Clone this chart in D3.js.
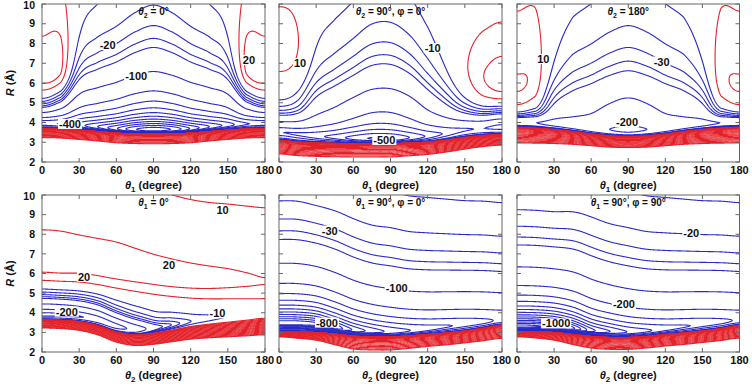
<!DOCTYPE html>
<html>
<head>
<meta charset="utf-8">
<script src="https://cdn.jsdelivr.net/npm/d3@7"></script>
<style>
  body { margin: 0; background: #fff; }
  text { font-family: "Liberation Sans", Arial, sans-serif; font-weight: bold; }
</style>
</head>
<body>
<svg id="chart" width="752" height="386"></svg>
<script>
const angles = [0, 15, 30, 45, 60, 75, 90, 105, 120, 135, 150, 165, 180];
const xTicks = [0, 30, 60, 90, 120, 150, 180];
const yTicks = [2, 3, 4, 5, 6, 7, 8, 9, 10];

// contour levels
const blueLevels = [-1500, -1400, -1300, -1200, -1100, -1000, -900, -800, -700, -600, -500, -400, -300, -200, -100, -50, -40, -30, -20, -10];
const redLevels = [10, 20, 35, 60, 100, 170, 300, 500, 850, 1500, 2500, 4300, 7500, 13000, 22000, 38000, 65000, 95000];

// panel 1 : theta2 = 0
const p1RedTop   = [3.70, 3.68, 3.62, 3.55, 3.47, 3.43, 3.42, 3.43, 3.47, 3.55, 3.62, 3.68, 3.70];
const p1RedWidth = [0.47, 0.47, 0.48, 0.49, 0.50, 0.50, 0.50, 0.50, 0.50, 0.49, 0.48, 0.47, 0.47];
const p1WellR    = [3.95, 3.92, 3.85, 3.75, 3.64, 3.57, 3.55, 3.57, 3.64, 3.75, 3.85, 3.92, 3.95];
const p1Depth    = [380, 420, 540, 700, 930, 1200, 1300, 1200, 930, 700, 540, 420, 380];
const p1Power    = [12, 9, 6.5, 6, 5.8, 5.6, 5.5, 5.6, 5.8, 6, 6.5, 9, 12];
const p1Far      = [0, 0, 6, 8, 10, 13, 15, 13, 10, 8, 6, 0, 0];
const p1Lobe     = [27, 26, 5, 0, 0, 0, 0, 0, 0, 0, 5, 26, 27];
const p1LobeR    = [6.5, 6.7, 7.0, 7.0, 7.0, 7.0, 7.0, 7.0, 7.0, 7.0, 7.0, 6.7, 6.5];

// panel 2 : theta2 = 90, phi = 0
const p2RedTop   = [3.10, 3.02, 2.98, 2.95, 2.93, 2.93, 2.93, 2.97, 3.02, 3.12, 3.25, 3.35, 3.40];
const p2RedWidth = [0.70, 0.70, 0.70, 0.69, 0.68, 0.68, 0.68, 0.66, 0.64, 0.62, 0.60, 0.57, 0.55];
const p2WellR    = [3.50, 3.40, 3.30, 3.24, 3.18, 3.15, 3.15, 3.20, 3.30, 3.45, 3.62, 3.70, 3.75];
const p2Depth    = [300, 320, 360, 430, 540, 620, 610, 500, 370, 270, 210, 200, 240];
const p2Power    = [9, 8, 6.5, 5.8, 5.2, 5, 5, 5.2, 5.8, 6.5, 8, 9, 9.5];
const p2Far      = [0, 1, 5, 7, 9, 12, 12.5, 10, 6, 3, 1, 0, 0];
const p2Lobe     = [15, 13, 2, 0, 0, 0, 0, 0, 0, 4, 13, 22, 28];
const p2LobeR    = [7.8, 7.8, 7.8, 7.5, 7.5, 7.0, 7.0, 7.0, 7.0, 6.8, 6.4, 6.1, 6.0];

// panel 3 : theta2 = 180
const p3RedTop   = [3.76, 3.72, 3.65, 3.55, 3.42, 3.33, 3.30, 3.33, 3.42, 3.55, 3.65, 3.72, 3.76];
const p3RedWidth = [0.80, 0.77, 0.72, 0.66, 0.60, 0.58, 0.57, 0.58, 0.60, 0.66, 0.72, 0.77, 0.80];
const p3WellR    = [4.00, 3.97, 3.90, 3.80, 3.70, 3.63, 3.60, 3.63, 3.70, 3.80, 3.90, 3.97, 4.00];
const p3Depth    = [110, 105, 100, 100, 110, 140, 170, 140, 110, 100, 100, 105, 110];
const p3Power    = [16, 12, 8, 7.7, 7.7, 7.7, 7.7, 7.7, 7.7, 7.7, 8, 12, 16];
const p3Far      = [0, 0, 5, 8, 10, 12.5, 14, 12.5, 10, 8, 5, 0, 0];
const p3Lobe     = [21, 18, 5, 0, 0, 0, 0, 0, 0, 0, 5, 18, 21];
const p3LobeR    = [5.8, 6.3, 6.8, 7.0, 7.0, 7.0, 7.0, 7.0, 7.0, 7.0, 6.8, 6.3, 5.8];

// panel 4 : theta1 = 0
const p4RedTop   = [3.64, 3.62, 3.55, 3.35, 3.02, 2.88, 2.96, 3.12, 3.30, 3.42, 3.52, 3.62, 3.72];
const p4RedWidth = [0.42, 0.43, 0.45, 0.48, 0.52, 0.55, 0.57, 0.60, 0.65, 0.70, 0.75, 0.80, 0.85];
const p4WellR    = [3.90, 3.88, 3.80, 3.62, 3.30, 3.15, 3.22, 3.38, 3.55, 3.68, 3.78, 3.88, 3.98];
const p4Depth    = [340, 330, 310, 285, 250, 160, 70, 40, 21, 14, 10, 7, 5];
const p4Power    = [11, 11, 10.5, 10, 9.5, 9, 9, 9, 9, 9, 9, 9, 9];
const p4Far      = [0, 0, 0, 0, 0, 0, 0, 0, 0, 0, 0, 0, 0];
const p4Lobe     = [24.5, 24.5, 24, 23.8, 23.5, 23, 22.5, 22.3, 22, 21.7, 21.3, 20.8, 20.4];
const p4LobeR    = [6.4, 6.35, 6.3, 6.2, 6.1, 5.95, 5.8, 5.65, 5.55, 5.5, 5.5, 5.5, 5.5];

// panel 5 : theta1 = 90, phi = 0
const p5RedTop   = [3.03, 3.02, 3.00, 2.92, 2.82, 2.78, 2.78, 2.83, 2.90, 2.98, 3.08, 3.22, 3.37];
const p5RedWidth = [0.26, 0.32, 0.40, 0.55, 0.67, 0.68, 0.68, 0.65, 0.62, 0.62, 0.62, 0.65, 0.68];
const p5WellR    = [3.45, 3.45, 3.40, 3.25, 3.10, 3.03, 3.00, 3.05, 3.15, 3.28, 3.40, 3.50, 3.60];
const p5Depth    = [1200, 1190, 1150, 1000, 820, 700, 620, 540, 470, 420, 380, 340, 300];
const p5Power    = [4, 4, 4, 3.8, 3.6, 3.5, 3.4, 3.4, 3.4, 3.45, 3.5, 3.5, 3.5];
const p5Far      = [0, 0, 0, 0, 0, 0, 0, 0, 0, 0, 0, 0, 0];
const p5Lobe     = [0, 0, 0, 0, 0, 0, 0, 0, 0, 0, 0, 0, 0];
const p5LobeR    = [7, 7, 7, 7, 7, 7, 7, 7, 7, 7, 7, 7, 7];

// panel 6 : theta1 = 90, phi = 90
const p6RedTop   = [3.05, 3.04, 3.00, 2.90, 2.80, 2.75, 2.75, 2.80, 2.90, 2.98, 3.08, 3.20, 3.35];
const p6RedWidth = [0.28, 0.33, 0.40, 0.52, 0.60, 0.62, 0.62, 0.60, 0.60, 0.60, 0.60, 0.62, 0.65];
const p6WellR    = [3.30, 3.30, 3.28, 3.20, 3.08, 3.02, 3.00, 3.05, 3.15, 3.28, 3.40, 3.50, 3.60];
const p6Depth    = [1450, 1430, 1350, 1150, 870, 730, 620, 540, 470, 420, 380, 340, 300];
const p6Power    = [4.2, 4.2, 4.15, 3.9, 3.6, 3.5, 3.4, 3.4, 3.4, 3.45, 3.5, 3.5, 3.5];
const p6Far      = [0, 0, 0, 0, 0, 0, 0, 0, 0, 0, 0, 0, 0];
const p6Lobe     = [0, 0, 0, 0, 0, 0, 0, 0, 0, 0, 0, 0, 0];
const p6LobeR    = [7, 7, 7, 7, 7, 7, 7, 7, 7, 7, 7, 7, 7];

// contour labels [text, angle, R]
const p1Labels = [["-20", 53, 7.92], ["-100", 76, 6.36], ["-400", 22.6, 3.92], ["20", 167, 7.16]];
const p2Labels = [["10", 17, 7.0], ["-10", 124, 7.76], ["-500", 85, 3.11]];
const p3Labels = [["10", 21.3, 7.2], ["-30", 117, 7.08], ["-200", 89, 4.0]];
const p4Labels = [["10", 145.7, 9.23], ["20", 102.5, 6.43], ["20", 34, 5.83], ["-200", 20, 4.05], ["-10", 141.6, 3.96]];
const p5Labels = [["-30", 41, 8.18], ["-100", 95, 5.24], ["-800", 38.7, 3.49]];
const p6Labels = [["-20", 141, 8.05], ["-200", 86.5, 4.44], ["-1000", 31.7, 3.45]];

const cols = [[42, 265], [279, 502], [517, 739.5]];
const rows = [[4, 162], [195, 352]];

const VMAX = 1e5, RES = 2, M = 3;
const blue = "#2a2ac8", red = "#e4222a";
const STEP = angles[1] - angles[0];

function spline(vals) {
  const n = vals.length;
  const at = i => vals[i < 0 ? -i : i > n - 1 ? 2 * (n - 1) - i : i];
  return t => {
    t = Math.max(0, Math.min(180, t));
    const s = t / STEP;
    const i = Math.min(Math.floor(s), n - 2), f = s - i;
    const p0 = at(i - 1), p1 = at(i), p2 = at(i + 1), p3 = at(i + 2);
    return 0.5 * (2 * p1 + (p2 - p0) * f + (2 * p0 - 5 * p1 + 4 * p2 - p3) * f * f + (3 * p1 - p0 - 3 * p2 + p3) * f * f * f);
  };
}

function makePanel(col, row, arr, opts, labels, title, xName) {
  const [rw, th, rm, de, pw, far, q, rq] = arr.map(a => spline(a));
  return {col, row, labels, title, xName, rw, th, rm, de, pw, far, q, rq,
          ali: opts.ali, nin: opts.nin, nout: opts.nout};
}

const panels = [
  makePanel(0, 0, [p1RedTop, p1RedWidth, p1WellR, p1Depth, p1Power, p1Far, p1Lobe, p1LobeR], {ali: 0.25, nin: 6, nout: 3.5}, p1Labels,
    [["θ", "i"], ["2", "s"], [" = 0°", ""]], "1"),
  makePanel(1, 0, [p2RedTop, p2RedWidth, p2WellR, p2Depth, p2Power, p2Far, p2Lobe, p2LobeR], {ali: 0.25, nin: 4, nout: 4.5}, p2Labels,
    [["θ", "i"], ["2", "s"], ["  = 90°, φ = 0°", ""]], "1"),
  makePanel(2, 0, [p3RedTop, p3RedWidth, p3WellR, p3Depth, p3Power, p3Far, p3Lobe, p3LobeR], {ali: 0.25, nin: 4, nout: 3}, p3Labels,
    [["θ", "i"], ["2", "s"], ["  = 180°", ""]], "1"),
  makePanel(0, 1, [p4RedTop, p4RedWidth, p4WellR, p4Depth, p4Power, p4Far, p4Lobe, p4LobeR], {ali: 0.25, nin: 6, nout: 2.8}, p4Labels,
    [["θ", "i"], ["1", "s"], ["  = 0°", ""]], "2"),
  makePanel(1, 1, [p5RedTop, p5RedWidth, p5WellR, p5Depth, p5Power, p5Far, p5Lobe, p5LobeR], {ali: 0.25, nin: 4, nout: 3}, p5Labels,
    [["θ", "i"], ["1", "s"], ["  = 90°, φ = 0°", ""]], "2"),
  makePanel(2, 1, [p6RedTop, p6RedWidth, p6WellR, p6Depth, p6Power, p6Far, p6Lobe, p6LobeR], {ali: 0.25, nin: 4, nout: 3}, p6Labels,
    [["θ", "i"], ["1", "s"], ["  = 90°, φ = 90°", ""]], "2")
];

const tf = v => Math.sign(v) * Math.log1p(Math.abs(v) / 2);

// attractive well: power-law near the minimum plus a damped long-range tail (far = depth at 10 Å)
function att(c, r) {
  const u = r - c.rm;
  const s = Math.sqrt(u * u + 0.01) - 0.1;
  const near = u > 0 ? -c.de * Math.pow(c.rm / (c.rm + s), c.pw) : -c.de * Math.exp(-s / c.ali);
  const tail = c.far > 0 ? -c.far * Math.pow(10 / r, 3) * (1 - Math.exp(-Math.pow(r / 4.5, 6))) : 0;
  return near + tail;
}
function lobe(c, r) {
  if (c.q <= 0) return 0;
  const z = Math.pow(c.rq / r, r < c.rq ? c.nin : c.nout);
  return c.q * z * Math.exp(1 - z);
}

const svg = d3.select("#chart");
panels.forEach((p, k) => drawPanel(p, k));

function drawPanel(p, k) {
  const [x0, x1] = cols[p.col], [y0, y1] = rows[p.row];
  const x = d3.scaleLinear().domain([0, 180]).range([x0, x1]);
  const y = d3.scaleLinear().domain([2, 10]).range([y1, y0]);

  // sample the field on a grid a little larger than the frame
  const nx = Math.round((x1 - x0 + 2 * M) * RES), ny = Math.round((y1 - y0 + 2 * M) * RES);
  const values = new Float64Array(nx * ny);
  for (let i = 0; i < nx; i++) {
    const t = Math.max(0, Math.min(180, x.invert(x0 - M + (i + 0.5) / RES)));
    const c = {rm: p.rm(t), de: p.de(t), pw: p.pw(t), far: p.far(t), rw: p.rw(t), th: p.th(t),
               q: p.q(t), rq: p.rq(t), ali: p.ali, nin: p.nin, nout: p.nout};
    c.a0 = 10 - att(c, c.rw) - lobe(c, c.rw);
    c.bw = c.th / Math.log(VMAX / c.a0);
    for (let j = 0; j < ny; j++) {
      const r = y.invert(y0 - M + (j + 0.5) / RES);
      const v = att(c, r) + lobe(c, r) + c.a0 * Math.exp((c.rw - r) / c.bw);
      values[j * nx + i] = tf(v);
    }
  }

  const levels = blueLevels.concat(redLevels);
  const contours = d3.contours().size([nx, ny]).thresholds(levels.map(tf))(values);
  contours.forEach((cn, idx) => { cn.level = levels[idx]; });

  const clipId = "clip" + k;
  svg.append("clipPath").attr("id", clipId)
    .append("rect").attr("x", x0).attr("y", y0).attr("width", x1 - x0).attr("height", y1 - y0);

  const path = d3.geoPath(d3.geoIdentity().scale(1 / RES).translate([x0 - M, y0 - M]));

  svg.append("g").attr("clip-path", `url(#${clipId})`)
    .selectAll("path")
    .data(contours)
    .join("path")
    .attr("d", path)
    .attr("fill", "none")
    .attr("stroke", d => d.level > 0 ? red : blue)
    .attr("stroke-width", 1.1);

  // contour labels
  const lab = svg.append("g");
  p.labels.forEach(([txt, t, r]) => {
    const g = lab.append("g");
    const tx = g.append("text").attr("x", x(t)).attr("y", y(r)).attr("dy", "0.35em")
      .attr("text-anchor", "middle").attr("font-size", 11).attr("fill", "#111").text(txt);
    const bb = tx.node().getBBox();
    g.insert("rect", "text").attr("x", bb.x - 1).attr("y", bb.y + 1).attr("width", bb.width + 2)
      .attr("height", bb.height - 2).attr("fill", "#fff");
  });

  // frame and ticks
  const fr = svg.append("g").attr("stroke", "#666").attr("stroke-width", 1);
  fr.append("rect").attr("x", x0).attr("y", y0).attr("width", x1 - x0).attr("height", y1 - y0).attr("fill", "none");
  xTicks.forEach(v => {
    fr.append("line").attr("x1", x(v)).attr("x2", x(v)).attr("y1", y1).attr("y2", y1 - 4);
    fr.append("line").attr("x1", x(v)).attr("x2", x(v)).attr("y1", y0).attr("y2", y0 + 4);
  });
  yTicks.forEach(v => {
    fr.append("line").attr("x1", x0).attr("x2", x0 + 4).attr("y1", y(v)).attr("y2", y(v));
    fr.append("line").attr("x1", x1).attr("x2", x1 - 4).attr("y1", y(v)).attr("y2", y(v));
  });

  // tick labels
  svg.append("g").selectAll("text").data(xTicks).join("text")
    .attr("x", d => x(d)).attr("y", y1 + 12).attr("text-anchor", "middle")
    .attr("font-size", 11).attr("fill", "#111").text(d => d);
  if (p.col === 0) {
    svg.append("g").selectAll("text").data(yTicks).join("text")
      .attr("x", x0 - 7).attr("y", d => Math.max(y(d), y0 + 1)).attr("dy", "0.35em").attr("text-anchor", "end")
      .attr("font-size", 10.5).attr("fill", "#111").text(d => d);
    const ry = (y0 + y1) / 2;
    const rt = svg.append("text").attr("transform", `translate(14,${ry}) rotate(-90)`)
      .attr("text-anchor", "middle").attr("font-size", 11).attr("fill", "#111");
    rt.append("tspan").attr("font-style", "italic").text("R");
    rt.append("tspan").text(" (Å)");
  }

  // axis title
  const xt = svg.append("text").attr("x", (x0 + x1) / 2).attr("y", y1 + 27).attr("text-anchor", "middle")
    .attr("font-size", 11).attr("fill", "#111");
  xt.append("tspan").attr("font-style", "italic").text("θ");
  xt.append("tspan").attr("font-size", 8).attr("dy", 3).text(p.xName);
  xt.append("tspan").attr("dy", -3).text(" (degree)");

  // panel title
  const tt = svg.append("text").attr("x", (x0 + x1) / 2).attr("y", y0 + 11).attr("text-anchor", "middle")
    .attr("font-size", 10).attr("fill", "#111");
  let shift = 0;
  p.title.forEach(([s, kind]) => {
    const ts = tt.append("tspan").text(s);
    if (kind === "i") ts.attr("font-style", "italic");
    if (kind === "s") { ts.attr("font-size", 7).attr("dy", 3 - shift); shift = 3; }
    else if (shift) { ts.attr("dy", -shift); shift = 0; }
  });
}
</script>
</body>
</html>
